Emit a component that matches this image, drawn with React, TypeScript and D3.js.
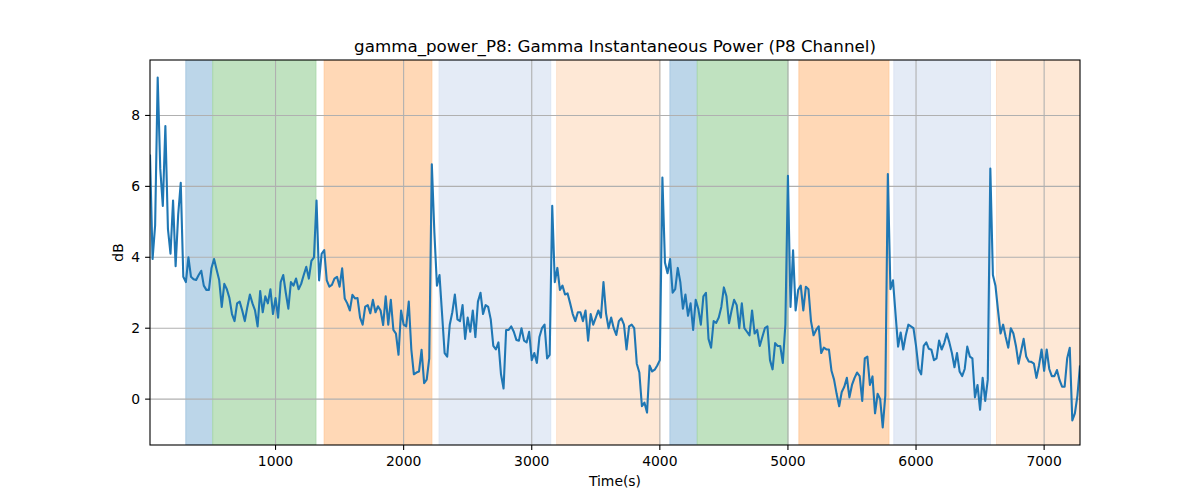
import * as React from "react";
import * as d3 from "d3";

// sampling of the power trace (s)
const startTime = 20;
const stepTime = 20;

const gammaPower = [
  6.9, 3.95, 4.9, 9.07, 6.5, 5.45, 7.7, 4.8, 4.1, 5.6, 3.75, 5.2, 6.1, 3.45, 3.3, 4.0, 3.45, 3.38, 3.36, 3.5,
  3.62, 3.2, 3.08, 3.08, 3.7, 3.95, 3.65, 3.36, 2.6, 3.25, 3.1, 2.85, 2.4, 2.2, 2.7, 2.75, 2.5, 2.2, 2.6, 2.95,
  2.7, 2.5, 2.05, 3.05, 2.45, 2.9, 2.7, 3.1, 2.4, 2.85, 2.3, 3.3, 3.5, 3.0, 2.55, 3.3, 3.2, 3.4, 3.1, 3.25,
  3.5, 3.73, 3.4, 3.9, 4.0, 5.6, 3.35, 4.1, 4.2, 3.35, 3.17, 3.22, 3.4, 3.45, 3.17, 3.69, 2.84, 2.7, 2.5, 2.94,
  2.84, 2.85, 2.3, 2.1, 2.61, 2.65, 2.42, 2.8, 2.45, 2.62, 2.5, 2.09, 2.9, 2.1, 2.8, 1.95, 1.85, 1.25, 2.5, 2.1,
  2.05, 2.75, 1.4, 0.7, 0.75, 0.78, 1.39, 0.45, 0.55, 1.15, 6.62, 4.7, 3.2, 3.5, 2.4, 1.3, 1.2, 2.1, 2.45, 2.95,
  2.25, 2.2, 2.65, 1.7, 2.3, 1.9, 2.5, 1.75, 2.75, 3.0, 2.4, 2.65, 2.6, 2.25, 1.5, 1.4, 1.6, 0.7, 0.3, 1.95,
  1.95, 2.05, 1.9, 1.67, 1.65, 2.0, 1.65, 1.6, 1.9, 1.1, 1.3, 1.02, 1.75, 2.0, 2.1, 1.15, 1.25, 5.45, 3.3, 3.7,
  3.08, 3.2, 2.95, 2.98, 2.7, 2.4, 2.2, 2.45, 2.45, 2.2, 2.5, 1.65, 2.4, 2.1, 2.3, 2.5, 2.3, 3.3, 2.42, 2.0,
  2.3, 2.0, 1.81, 2.2, 2.28, 2.1, 1.4, 2.05, 2.1, 2.0, 1.0, 0.75, -0.2, -0.1, -0.38, 0.95, 0.78, 0.83, 0.95, 1.1,
  6.25, 3.85, 3.55, 3.95, 3.0, 3.1, 3.7, 3.3, 2.55, 2.95, 2.35, 2.7, 1.95, 2.8, 2.55, 2.1, 2.9, 3.0, 1.7, 1.45,
  2.2, 2.15, 2.3, 2.6, 3.15, 2.9, 2.14, 2.5, 2.8, 2.65, 2.0, 2.7, 2.0, 1.9, 1.8, 2.5, 1.85, 1.95, 1.5, 1.75,
  2.0, 2.05, 1.1, 0.84, 1.58, 1.5, 1.5, 1.02, 2.1, 6.3, 2.6, 4.2, 2.5, 3.08, 3.2, 2.5, 3.17, 3.1, 2.2, 1.8,
  1.95, 2.05, 1.3, 1.45, 1.4, 1.4, 0.8, 0.55, 0.15, -0.2, 0.2, 0.35, 0.6, 0.05, 0.4, 0.6, 0.75, 0.65, -0.05, 1.15,
  1.2, 0.4, 0.64, -0.4, 0.15, 0.0, -0.8, 0.1, 6.35, 3.1, 3.35, 2.4, 1.48, 1.88, 1.4, 1.8, 2.1, 2.05, 2.0, 1.5,
  0.85, 0.7, 1.5, 1.6, 1.42, 1.39, 1.1, 1.15, 1.65, 1.4, 1.58, 1.85, 1.6, 1.3, 0.9, 1.3, 0.78, 0.65, 0.85, 1.48,
  1.2, 1.15, 0.05, 0.4, -0.3, 0.6, -0.05, 0.55, 6.5, 3.5, 3.2, 2.5, 1.85, 2.1, 1.75, 1.45, 2.0, 1.85, 1.5, 1.0,
  1.35, 1.7, 1.2, 1.06, 1.05, 1.0, 0.6, 0.95, 1.4, 0.8, 1.4, 0.85, 0.65, 0.65, 0.82, 0.54, 0.35, 0.35, 1.15, 1.45,
  -0.6, -0.4, 0.1, 0.95,
];

// shaded phases
const phaseStart = [300, 510, 1380, 2277, 3195, 4079, 4292, 5086, 5827, 6628];
const phaseEnd = [510, 1315, 2220, 3148, 4000, 4292, 5000, 5788, 6581, 7280];
const phaseKind = ["blue", "green", "orange", "lightblue", "lightorange", "blue", "green", "orange", "lightblue", "lightorange"];

const xTicks = [1000, 2000, 3000, 4000, 5000, 6000, 7000];
const yTicks = [0, 2, 4, 6, 8];

const phaseFill: Record<string, string> = {
  blue: "#bcd6e9",
  green: "#c0e2c0",
  orange: "#ffd8b6",
  lightblue: "#e4ebf6",
  lightorange: "#fee8d6",
};
const phaseEdge: Record<string, string> = {
  blue: "#a9c9e2",
  green: "#aad8aa",
  orange: "#ffcc9f",
  lightblue: "#dce5f3",
  lightorange: "#fde1ca",
};

const W = 1200;
const H = 500;
const left = 150;
const right = 1080;
const top = 60;
const bottom = 445;
const font = "'DejaVu Sans', sans-serif";

export default function App() {
  const points = gammaPower.map((v, i) => ({ t: startTime + i * stepTime, v }));

  const x = d3
    .scaleLinear()
    .domain(d3.extent(points, (d) => d.t) as [number, number])
    .range([left, right]);

  const [lo, hi] = d3.extent(gammaPower) as [number, number];
  const pad = (hi - lo) * 0.05;
  const y = d3
    .scaleLinear()
    .domain([lo - pad, hi + pad])
    .range([bottom, top]);

  const line = d3
    .line<{ t: number; v: number }>()
    .x((d) => x(d.t))
    .y((d) => y(d.v));

  return (
    <svg
      width={W}
      height={H}
      style={{ position: "absolute", left: 0, top: 0, background: "#fff" }}
      fontFamily={font}
    >
      <defs>
        <clipPath id="plot-area">
          <rect x={left} y={top} width={right - left} height={bottom - top} />
        </clipPath>
      </defs>

      <g clipPath="url(#plot-area)">
        {phaseStart.map((s, i) => (
          <rect
            key={i}
            x={x(s)}
            y={top}
            width={x(phaseEnd[i]) - x(s)}
            height={bottom - top}
            fill={phaseFill[phaseKind[i]]}
            stroke={phaseEdge[phaseKind[i]]}
            strokeWidth={1}
          />
        ))}

        {/* grid */}
        {xTicks.map((t) => (
          <line key={"gx" + t} x1={x(t)} x2={x(t)} y1={top} y2={bottom} stroke="#b0b0b0" strokeWidth={1.1} />
        ))}
        {yTicks.map((t) => (
          <line key={"gy" + t} x1={left} x2={right} y1={y(t)} y2={y(t)} stroke="#b0b0b0" strokeWidth={1.1} />
        ))}

        <path d={line(points) || ""} fill="none" stroke="#1f77b4" strokeWidth={2.1} strokeLinejoin="round" />
      </g>

      {/* frame */}
      <rect x={left} y={top} width={right - left} height={bottom - top} fill="none" stroke="#000" strokeWidth={1.1} />

      {/* x axis */}
      {xTicks.map((t) => (
        <g key={"xt" + t}>
          <line x1={x(t)} x2={x(t)} y1={bottom} y2={bottom + 4.9} stroke="#000" strokeWidth={1.1} />
          <text x={x(t)} y={bottom + 21} textAnchor="middle" fontSize={13.9} fill="#000">
            {t}
          </text>
        </g>
      ))}

      {/* y axis */}
      {yTicks.map((t) => (
        <g key={"yt" + t}>
          <line x1={left - 4.9} x2={left} y1={y(t)} y2={y(t)} stroke="#000" strokeWidth={1.1} />
          <text x={left - 9.8} y={y(t) + 5} textAnchor="end" fontSize={13.9} fill="#000">
            {t}
          </text>
        </g>
      ))}

      <text x={(left + right) / 2} y={52} textAnchor="middle" fontSize={16.7} fill="#000">
        gamma_power_P8: Gamma Instantaneous Power (P8 Channel)
      </text>
      <text x={(left + right) / 2} y={486} textAnchor="middle" fontSize={13.9} fill="#000">
        Time(s)
      </text>
      <text
        transform={`translate(123, ${(top + bottom) / 2}) rotate(-90)`}
        textAnchor="middle"
        fontSize={13.9}
        fill="#000"
      >
        dB
      </text>
    </svg>
  );
}
